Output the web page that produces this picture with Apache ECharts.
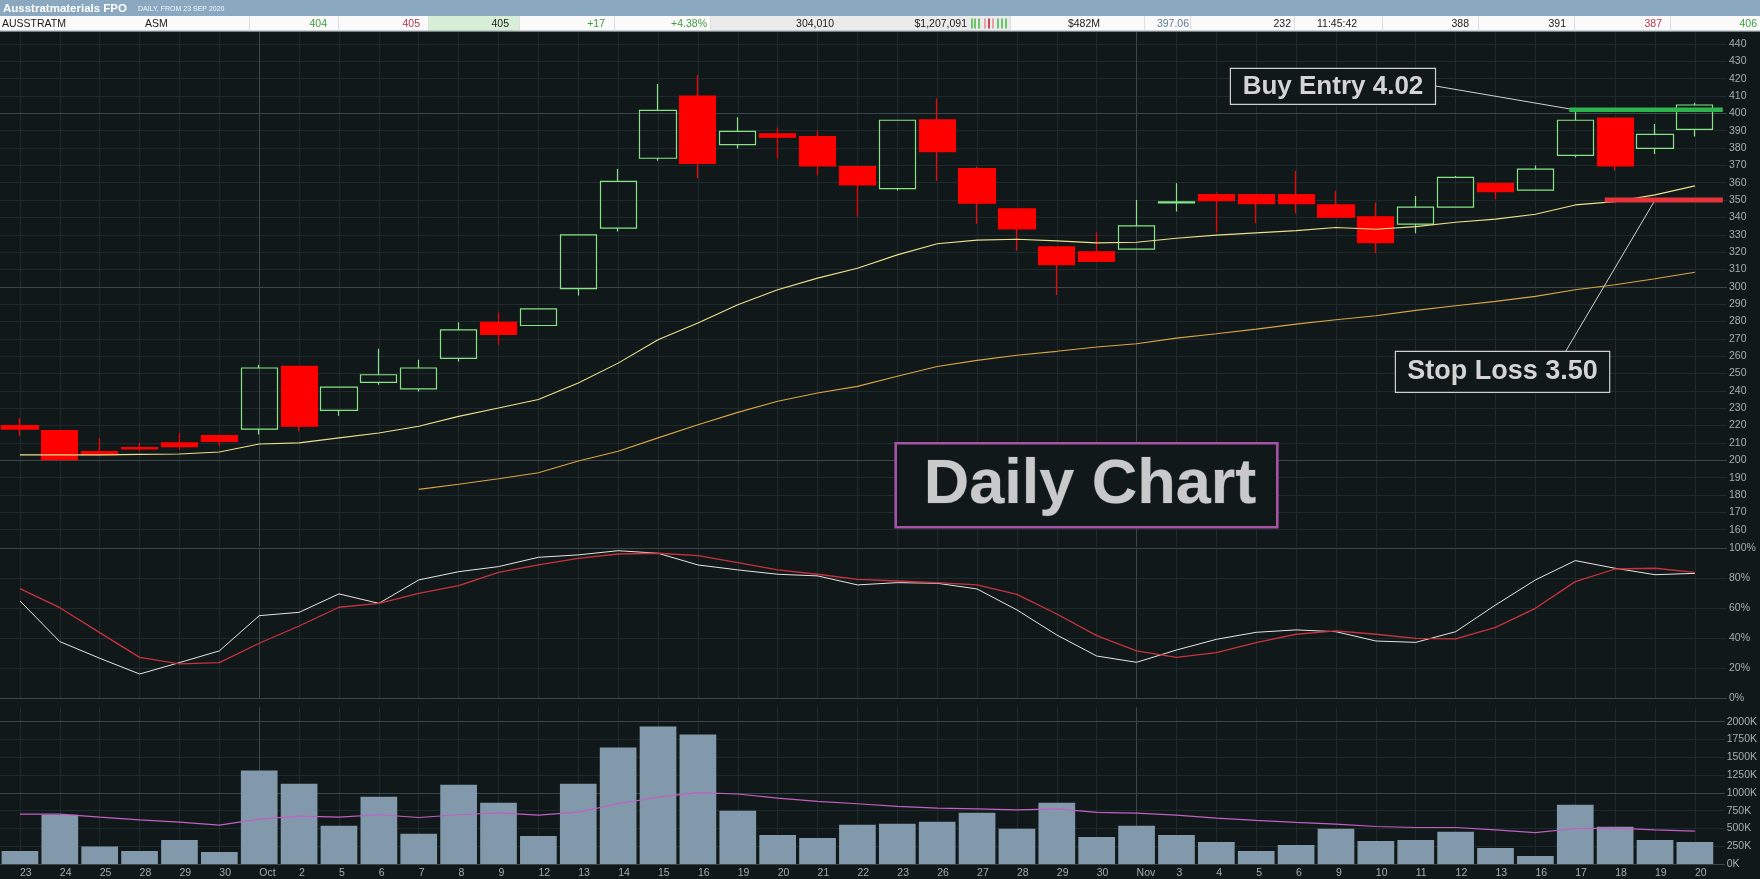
<!DOCTYPE html>
<html><head><meta charset="utf-8">
<script src="https://cdn.jsdelivr.net/npm/echarts@6/dist/echarts.min.js"></script>
<style>html,body{margin:0;padding:0;background:#111819;}#c{width:1760px;height:879px;}</style>
</head><body><div id="c"></div>
<script>
// ---------------- data ----------------
const categoryKeys = ['09-23','09-24','09-25','09-28','09-29','09-30','10-01','10-02','10-05','10-06','10-07','10-08','10-09','10-12','10-13','10-14','10-15','10-16','10-19','10-20','10-21','10-22','10-23','10-26','10-27','10-28','10-29','10-30','11-02','11-03','11-04','11-05','11-06','11-09','11-10','11-11','11-12','11-13','11-16','11-17','11-18','11-19','11-20'];
const dayLabels = ['23','24','25','28','29','30','Oct','2','5','6','7','8','9','12','13','14','15','16','19','20','21','22','23','26','27','28','29','30','Nov','3','4','5','6','9','10','11','12','13','16','17','18','19','20'];
const openP  = [220.0,217.1,205.0,207.3,210.0,214.2,218.0,254.1,228.8,244.9,241.1,258.7,279.5,277.7,299.0,333.8,374.1,410.0,382.0,388.1,386.6,369.3,356.6,396.2,368.1,344.9,323.0,320.2,321.7,348.4,353.2,353.2,353.2,347.2,340.3,336.1,345.9,359.7,355.7,375.8,397.3,379.8,390.8];
const closeP = [218.0,200.4,203.1,206.5,207.9,210.9,253.2,219.6,242.2,249.3,253.2,275.2,272.6,287.3,329.9,360.8,401.7,371.2,389.6,386.2,369.7,358.7,396.0,377.9,348.2,333.4,312.7,314.6,335.1,348.9,349.7,348.0,348.0,340.1,325.5,345.9,363.1,354.9,367.8,396.0,369.7,387.9,404.8];
const lowP   = [214.2,200.0,202.6,205.2,206.1,208.1,214.8,216.7,225.7,243.6,239.7,257.0,266.6,277.5,295.0,331.9,372.7,362.6,379.7,373.9,364.1,340.5,355.5,361.2,336.3,320.9,295.2,314.4,321.5,343.4,331.5,336.7,342.4,339.9,319.4,330.9,345.7,350.5,355.5,374.5,367.0,376.6,386.6];
const highP  = [224.4,217.5,212.9,210.0,215.7,214.5,255.1,254.5,242.5,264.3,258.0,279.5,285.2,287.5,330.2,367.9,416.9,422.1,397.7,391.9,390.0,369.5,396.2,408.6,369.3,345.1,323.2,331.5,350.1,359.7,354.3,353.4,366.8,355.3,348.6,352.4,363.9,360.0,369.9,401.5,397.5,393.9,406.1];
const maFast = [203.1,203.1,203.1,203.4,203.6,204.8,209.4,210.0,212.9,215.7,219.6,225.3,230.1,235.0,244.5,256.0,269.5,279.1,289.6,298.3,305.0,310.7,318.4,324.8,326.9,327.4,326.5,325.3,325.7,328.0,329.8,331.1,332.4,334.2,333.2,334.7,337.2,339.0,341.8,347.2,349.1,353.0,358.2];
const maSlow = [null,null,null,null,null,null,null,null,null,null,183.2,186.2,189.3,192.8,199.6,205.2,212.9,220.5,227.6,234.0,238.8,242.6,248.4,254.1,257.6,260.5,262.8,265.3,267.2,270.4,272.9,275.6,278.5,281.0,283.3,286.4,289.1,291.6,294.5,298.3,301.2,304.6,308.4];
const stochK = [64.9,37.8,26.7,16.2,23.8,31.6,55.1,57.3,69.6,63.3,78.9,84.4,87.8,94.0,95.6,98.4,96.7,88.9,85.6,82.7,81.6,75.6,77.1,76.7,72.9,58.9,42.2,28.2,24.0,32.2,39.3,44.0,45.6,44.4,38.2,37.3,44.4,62.2,78.9,91.8,86.7,82.4,83.3];
const stochD = [73.1,60.4,43.8,27.3,22.9,23.8,36.7,48.2,60.7,63.3,70.0,75.1,84.0,88.9,93.3,96.2,96.7,95.1,90.4,85.6,82.7,79.3,78.2,77.1,75.6,69.3,56.2,41.8,31.6,27.3,30.4,37.1,42.7,44.9,42.7,40.0,39.6,47.3,60.0,77.8,86.2,86.7,84.0];
const volume = [184,692,245,184,339,169,1313,1129,536,946,424,1115,861,395,1129,1638,1934,1821,748,409,367,551,565,593,720,494,861,381,536,409,311,184,268,494,325,339,452,226,113,833,522,339,311].map(v => v * 1000);
const volumeMA = [701,701,659,621,588,546,631,673,659,692,654,692,720,687,729,847,941,1002,984,927,880,847,809,786,776,762,776,725,715,687,645,612,584,560,527,513,513,480,442,499,504,480,461].map(v => v * 1000);
const buyEntry = 402;
const stopLoss = 350;
const headerCells = [
  {t:'AUSSTRATM', x:2, a:'left', c:'#1a1a1a'}, {t:'ASM', x:145, a:'left', c:'#1a1a1a'},
  {t:'404', x:327, a:'right', c:'#3f9c3f'}, {t:'405', x:420, a:'right', c:'#b2384c'},
  {t:'405', x:509, a:'right', c:'#1a1a1a'}, {t:'+17', x:605, a:'right', c:'#3f9c3f'},
  {t:'+4.38%', x:707, a:'right', c:'#3f9c3f'}, {t:'304,010', x:834, a:'right', c:'#1a1a1a'},
  {t:'$1,207,091', x:967, a:'right', c:'#1a1a1a'}, {t:'$482M', x:1100, a:'right', c:'#1a1a1a'},
  {t:'397.06', x:1189, a:'right', c:'#5d7c92'}, {t:'232', x:1291, a:'right', c:'#1a1a1a'},
  {t:'11:45:42', x:1317, a:'left', c:'#1a1a1a'}, {t:'388', x:1469, a:'right', c:'#1a1a1a'},
  {t:'391', x:1566, a:'right', c:'#1a1a1a'}, {t:'387', x:1662, a:'right', c:'#b2384c'},
  {t:'406', x:1757, a:'right', c:'#3f9c3f'}
];

// ---------------- layout / style ----------------
const BAND = 39.88;
const N = categoryKeys.length;
const DATA_W = N * BAND;
const BG_W = 1727;
const BG_MAX = -0.5 + BG_W / BAND;
const P = {main:{top:31.8,h:515.2}, stoch:{top:548.3,h:150}, vol:{top:707.5,h:156.5}};
const BG = '#111819', FAINT = '#1e2a2d', MAJOR = '#3a4649', LBL = '#a6aeb2';
const FONT = 'Liberation Sans, Arial, sans-serif';

const chart = echarts.init(document.getElementById('c'), null, {renderer:'canvas'});

function grid(p, w){ return {left:0, top:p.top, width:w, height:p.h}; }
function catAxis(gi, showLabels){
  return {type:'category', gridIndex:gi, data:categoryKeys, boundaryGap:true,
    axisLine:{show:false}, axisTick:{show:false}, splitLine:{show:false},
    axisLabel: showLabels ? {show:true, interval:0, align:'left', margin:4, color:LBL, fontSize:10.5, fontFamily:FONT,
      formatter:(v, i) => dayLabels[i]} : {show:false}};
}
function bgX(gi){ return {type:'value', gridIndex:gi, min:-0.5, max:BG_MAX, show:false}; }
function hidY(gi, min, max){ return {type:'value', gridIndex:gi, min, max, show:false, splitLine:{show:false}}; }
function bgY(gi, min, max, interval, fmt, showMax){
  return {type:'value', gridIndex:gi, min, max, interval, position:'right',
    axisLine:{show:false}, axisTick:{show:false},
    axisLabel:{show:true, margin:2, color:LBL, fontSize:10.5, fontFamily:FONT, formatter:fmt, showMinLabel:true, showMaxLabel:!!showMax},
    splitLine:{show:true, showMaxLine:false, lineStyle:{color:FAINT, width:1}}};
}
function vLines(){
  return {silent:true, symbol:['none','none'], label:{show:false}, z:0, animation:false,
    emphasis:{disabled:true},
    data: categoryKeys.map((k, i) => ({xAxis:i, lineStyle:{type:'solid', width:1,
      color:(dayLabels[i] === 'Oct' || dayLabels[i] === 'Nov') ? MAJOR : FAINT}}))};
}
function hLines(vals){
  return {silent:true, symbol:['none','none'], label:{show:false}, z:1, animation:false,
    emphasis:{disabled:true},
    lineStyle:{type:'solid', width:1, color:MAJOR},
    data: vals.map(v => ({yAxis:v}))};
}

const idx17 = categoryKeys.indexOf('11-17');
const idx18 = categoryKeys.indexOf('11-18');
const idx19 = categoryKeys.indexOf('11-19');
const lastIdx = N - 1;

const mainY = bgY(3, 150, 447, 10, v => (v >= 160 && v <= 440 && v % 10 === 0) ? String(v) : '');
mainY.axisLabel.showMinLabel = false;
mainY.splitLine.showMinLine = false;

const option = {
  backgroundColor: BG,
  animation: false,
  grid: [grid(P.main, DATA_W), grid(P.stoch, DATA_W), grid(P.vol, DATA_W),
         grid(P.main, BG_W), grid(P.stoch, BG_W), grid(P.vol, BG_W)],
  xAxis: [catAxis(0,false), catAxis(1,false), catAxis(2,true), bgX(3), bgX(4), bgX(5)],
  yAxis: [hidY(0,150,447), hidY(1,0,100), hidY(2,0,2200000),
          mainY,
          bgY(4, 0, 100, 20, v => v + '%', true),
          bgY(5, 0, 2200000, 250000, v => (v / 1000) + 'K', false)],
  series: [
    // background guides
    {type:'line', xAxisIndex:3, yAxisIndex:3, data:[], z:1, markLine:hLines([200,300,400])},
    {type:'line', xAxisIndex:4, yAxisIndex:4, data:[], z:1, markLine:hLines([0,100])},
    {type:'line', xAxisIndex:5, yAxisIndex:5, data:[], z:1, markLine:hLines([0,1000000,2000000])},
    {type:'line', xAxisIndex:0, yAxisIndex:0, data:[], z:0, markLine:vLines()},
    {type:'line', xAxisIndex:1, yAxisIndex:1, data:[], z:0, markLine:vLines()},
    {type:'line', xAxisIndex:2, yAxisIndex:2, data:[], z:0, markLine:vLines()},
    // price
    {type:'candlestick', xAxisIndex:0, yAxisIndex:0, barWidth:'92%', z:3,
      data: openP.map((o, i) => [o, closeP[i], lowP[i], highP[i]]),
      itemStyle:{color:'transparent', color0:'#ff0000', borderColor:'#86e486', borderColor0:'#ff0000', borderWidth:1.2}},
    {type:'line', xAxisIndex:0, yAxisIndex:0, data:maFast, symbol:'none', z:4,
      lineStyle:{color:'#ecdf8c', width:1.1}},
    {type:'line', xAxisIndex:0, yAxisIndex:0, data:maSlow, symbol:'none', z:4, connectNulls:false,
      lineStyle:{color:'#d8a445', width:1.1}},
    // buy / stop lines and leaders
    {type:'line', xAxisIndex:3, yAxisIndex:3, symbol:'none', z:5,
      data:[[idx17 - 0.15, buyEntry], [lastIdx + 0.7, buyEntry]], lineStyle:{color:'#2db44e', width:4.5}},
    {type:'line', xAxisIndex:3, yAxisIndex:3, symbol:'none', z:5,
      data:[[idx18 - 0.26, stopLoss], [lastIdx + 0.7, stopLoss]], lineStyle:{color:'#e5333b', width:5}},
    {type:'line', xAxisIndex:3, yAxisIndex:3, data:[], z:6,
      markLine:{silent:true, symbol:['none','none'], label:{show:false}, animation:false, emphasis:{disabled:true},
        lineStyle:{type:'solid', width:1, color:'#cfcfcf'},
        data:[[{x:1435.5, y:86}, {coord:[idx17, buyEntry]}],
              [{x:1565.7, y:351.3}, {coord:[idx19, stopLoss]}]]}},
    // stochastic
    {type:'line', xAxisIndex:1, yAxisIndex:1, data:stochK, symbol:'none', z:4,
      lineStyle:{color:'#e4e4e4', width:1}},
    {type:'line', xAxisIndex:1, yAxisIndex:1, data:stochD, symbol:'none', z:4,
      lineStyle:{color:'#c7323d', width:1.3}},
    // volume
    {type:'bar', xAxisIndex:2, yAxisIndex:2, data:volume, barWidth:'92%', z:3,
      itemStyle:{color:'#8299ab'}},
    {type:'line', xAxisIndex:2, yAxisIndex:2, data:volumeMA, symbol:'none', z:4,
      lineStyle:{color:'#c35fc3', width:1.2}}
  ],
  graphic: [
    // annotation boxes
    {type:'rect', z:50, shape:{x:1230.4, y:68.3, width:205.1, height:36}, style:{fill:BG, stroke:'#cfcfcf', lineWidth:1.2}},
    {type:'text', z:51, x:1333, y:86.5, style:{text:'Buy Entry 4.02', fill:'#d4d4d4', font:'bold 26px ' + FONT, align:'center', verticalAlign:'middle'}},
    {type:'rect', z:50, shape:{x:1395.4, y:351.3, width:214.3, height:41}, style:{fill:BG, stroke:'#cfcfcf', lineWidth:1.2}},
    {type:'text', z:51, x:1502.5, y:372, style:{text:'Stop Loss 3.50', fill:'#d4d4d4', font:'bold 27px ' + FONT, align:'center', verticalAlign:'middle'}},
    {type:'rect', z:50, shape:{x:895.7, y:443.3, width:381.6, height:84}, style:{fill:BG, stroke:'#a653a6', lineWidth:2.6}},
    {type:'text', z:51, x:1090, y:486, style:{text:'Daily Chart', fill:'#c9c9c9', font:'bold 63px ' + FONT, align:'center', verticalAlign:'middle', stroke:'#2a3a44', lineWidth:1}},
    // header
    {type:'rect', z:60, shape:{x:0, y:0, width:1760, height:16}, style:{fill:'#8aa9c0'}},
    {type:'text', z:61, x:3, y:8.5, style:{text:'Ausstratmaterials FPO', fill:'#ffffff', font:'bold 11.5px ' + FONT, verticalAlign:'middle'}},
    {type:'text', z:61, x:138, y:9, style:{text:'DAILY, FROM 23 SEP 2020', fill:'#f2f6f9', font:'7px ' + FONT, verticalAlign:'middle'}},
    {type:'rect', z:60, shape:{x:0, y:16, width:1760, height:15}, style:{fill:'#fafafa'}},
    {type:'rect', z:60, shape:{x:429, y:16, width:90, height:15}, style:{fill:'#d6efd6'}},
    {type:'rect', z:60, shape:{x:710, y:16, width:300, height:15}, style:{fill:'#ebebeb'}},
    {type:'rect', z:60, shape:{x:0, y:30.5, width:1760, height:1.2}, style:{fill:'#9aa6ac'}}
  ].concat(
    [249,338,428,519,614,710,1010,1144,1190,1294,1382,1478,1574,1670].map(x => ({type:'rect', z:61, shape:{x:x, y:16, width:1, height:14.5}, style:{fill:'#dedede'}})),
    [[971,'#6cc46c'],[974,'#6cc46c'],[978,'#6cc46c'],[984,'#e6a0a8'],[988,'#c84a5c'],[992,'#e6a0a8'],[997,'#6cc46c'],[1001,'#6cc46c'],[1005,'#6cc46c']].map(b => ({type:'rect', z:62, shape:{x:b[0], y:18.5, width:2, height:10}, style:{fill:b[1]}})),
    headerCells.map(h => ({type:'text', z:62, x:h.x, y:23.8, style:{text:h.t, fill:h.c, font:'10.5px ' + FONT, align:h.a, verticalAlign:'middle'}}))
  )
};
chart.setOption(option);
</script></body></html>
